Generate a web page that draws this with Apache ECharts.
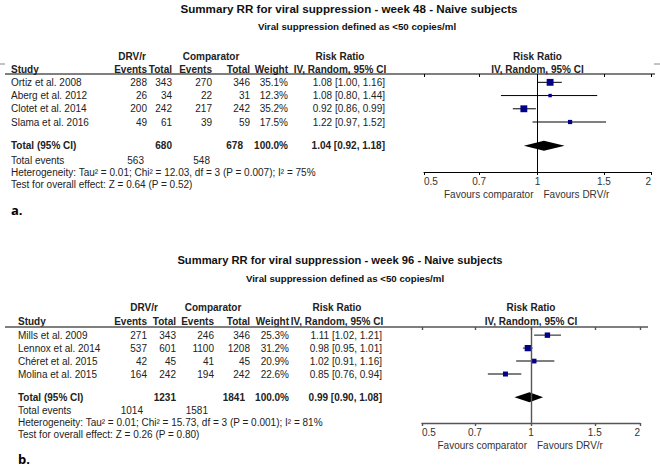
<!DOCTYPE html>
<html><head><meta charset="utf-8">
<script src="https://cdn.jsdelivr.net/npm/echarts@6/dist/echarts.min.js"></script>
<style>html,body{margin:0;padding:0;background:#fff}#c{width:660px;height:475px}</style>
</head><body><div id="c"></div>
<script>
// ---------- Panel a: week 48 ----------
const titleA = 'Summary RR for viral suppression - week 48 - Naive subjects';
const subtitleA = 'Viral suppression defined as <50 copies/ml';
const studiesA = ['Ortiz et al. 2008', 'Aberg et al. 2012', 'Clotet et al. 2014', 'Slama et al. 2016'];
const drvEventsA = [288, 26, 200, 49];
const drvTotalA = [343, 34, 242, 61];
const compEventsA = [270, 22, 217, 39];
const compTotalA = [346, 31, 242, 59];
const weightA = [35.1, 12.3, 35.2, 17.5];
const rrA = [1.08, 1.08, 0.92, 1.22];
const loA = [1.00, 0.80, 0.86, 0.97];
const hiA = [1.16, 1.44, 0.99, 1.52];
const pooledA = [1.04, 0.92, 1.18];          // RR, lower, upper
const totalsA = [680, 678];                  // DRV/r total, comparator total
const totalEventsA = [563, 548];
const hetA = 'Heterogeneity: Tau² = 0.01; Chi² = 12.03, df = 3 (P = 0.007); I² = 75%';
const testA = 'Test for overall effect: Z = 0.64 (P = 0.52)';

// ---------- Panel b: week 96 ----------
const titleB = 'Summary RR for viral suppression - week 96 - Naive subjects';
const subtitleB = 'Viral suppression defined as <50 copies/ml';
const studiesB = ['Mills et al. 2009', 'Lennox et al. 2014', 'Chéret et al. 2015', 'Molina et al. 2015'];
const drvEventsB = [271, 537, 42, 164];
const drvTotalB = [343, 601, 45, 242];
const compEventsB = [246, 1100, 41, 194];
const compTotalB = [346, 1208, 45, 242];
const weightB = [25.3, 31.2, 20.9, 22.6];
const rrB = [1.11, 0.98, 1.02, 0.85];
const loB = [1.02, 0.95, 0.91, 0.76];
const hiB = [1.21, 1.01, 1.16, 0.94];
const pooledB = [0.99, 0.90, 1.08];
const totalsB = [1231, 1841];
const totalEventsB = [1014, 1581];
const hetB = 'Heterogeneity: Tau² = 0.01; Chi² = 15.73, df = 3 (P = 0.001); I² = 81%';
const testB = 'Test for overall effect: Z = 0.26 (P = 0.80)';

// ---------- shared ----------
const tickValues = [0.5, 0.7, 1, 1.5, 2];
const favourLeft = 'Favours comparator';
const favourRight = 'Favours DRV/r';

// ---------- layout (positions / styles only) ----------
const FONT = '"Liberation Sans", Arial, sans-serif';
const TOTAL_ROW = 4.8;
const panels = [
  { key: 'a', letter: 'a.', title: titleA, subtitle: subtitleA, studies: studiesA,
    cols: [drvEventsA, drvTotalA, compEventsA, compTotalA], weight: weightA, rr: rrA, lo: loA, hi: hiA,
    pooled: pooledA, totals: totalsA, totalEvents: totalEventsA, het: hetA, test: testA,
    grid: { left: 424, top: 74, width: 227, height: 98 },
    colX: [147, 172, 212, 250, 288, 385], totColX: 243, evX: [144, 210], leftX: 11, lineX: [5, 655],
    titleX: 349, titleY: 8, subX: 357, subY: 26, h1Y: 56, h2Y: 69,
    h1X: { drv: 132, comp: 211, rr: 340 }, footY: [160, 172, 184], favY: 194, letterY: 210,
    ink: '#000', lineW: 1, titleSize: 11.6 },
  { key: 'b', letter: 'b.', title: titleB, subtitle: subtitleB, studies: studiesB,
    cols: [drvEventsB, drvTotalB, compEventsB, compTotalB], weight: weightB, rr: rrB, lo: loB, hi: hiB,
    pooled: pooledB, totals: totalsB, totalEvents: totalEventsB, het: hetB, test: testB,
    grid: { left: 422, top: 327, width: 218, height: 96 },
    colX: [147, 176, 214, 250, 289, 382], totColX: 245, evX: [143, 208], leftX: 18, lineX: [5, 648],
    titleX: 340, titleY: 260, subX: 345, subY: 278, h1Y: 307, h2Y: 321,
    h1X: { drv: 144, comp: 213, rr: 337 }, footY: [410, 422, 434], favY: 445, letterY: 459,
    ink: '#555', lineW: 1.4, titleSize: 11.2 }
];

const chart = echarts.init(document.getElementById('c'), null, { renderer: 'svg' });

function fmt(v) { return String(+(+v).toFixed(2)); }

const grids = [], xAxes = [], yAxes = [], series = [];
panels.forEach((p, i) => {
  grids.push(Object.assign({ containLabel: false }, p.grid));
  // main axis: line, labels and downward ticks
  xAxes.push({
    type: 'log', logBase: 10, gridIndex: i, min: 0.5, max: 2,
    axisLine: { show: true, onZero: false, lineStyle: { color: p.ink, width: p.lineW } },
    axisTick: { show: true, customValues: tickValues, length: 3, lineStyle: { color: p.ink, width: p.lineW } },
    axisLabel: { customValues: tickValues, formatter: fmt, margin: 4, fontSize: 10, color: '#333',
      fontFamily: FONT, alignMinLabel: 'left', alignMaxLabel: 'right' },
    splitLine: { show: false }, minorTick: { show: false }
  });
  // companion axis: upward half of the crossing ticks
  xAxes.push({
    type: 'log', logBase: 10, gridIndex: i, min: 0.5, max: 2,
    axisLine: { show: false, onZero: false },
    axisTick: { show: true, inside: true, customValues: tickValues, length: 3, lineStyle: { color: p.ink, width: p.lineW } },
    axisLabel: { show: false }, splitLine: { show: false }, minorTick: { show: false }
  });
  yAxes.push({ type: 'value', gridIndex: i, min: -0.63, max: 6.78, inverse: true, show: false });
  const studyData = p.rr.map((r, k) => [r, p.lo[k], p.hi[k], k, p.weight[k]]);
  series.push({
    type: 'custom', xAxisIndex: 2 * i, yAxisIndex: i, clip: false,
    data: studyData, encode: { x: [0, 1, 2], y: 3 },
    renderItem: (params, api) => {
      const row = api.value(3);
      const a = api.coord([api.value(1), row]);
      const b = api.coord([api.value(2), row]);
      const c = api.coord([api.value(0), row]);
      const s = 1.6 + 0.15 * api.value(4);
      return { type: 'group', children: [
        { type: 'line', shape: { x1: a[0], y1: a[1], x2: b[0], y2: b[1] }, style: { stroke: p.ink, lineWidth: p.lineW } },
        { type: 'rect', shape: { x: c[0] - s / 2, y: c[1] - s / 2, width: s, height: s }, style: { fill: '#00008b' } }
      ] };
    },
    markLine: { silent: true, symbol: 'none', animation: false, label: { show: false },
      lineStyle: { color: p.ink, width: p.lineW, type: 'solid' }, data: [{ xAxis: 1 }] },
    z: 3
  });
  series.push({
    type: 'custom', xAxisIndex: 2 * i, yAxisIndex: i, clip: false,
    data: [[p.pooled[0], p.pooled[1], p.pooled[2], TOTAL_ROW]], encode: { x: [0, 1, 2], y: 3 },
    renderItem: (params, api) => {
      const row = api.value(3);
      const l = api.coord([api.value(1), row]);
      const r = api.coord([api.value(2), row]);
      const m = api.coord([api.value(0), row]);
      const h = 5;
      return { type: 'polygon', shape: { points: [[l[0], l[1]], [m[0], m[1] - h], [r[0], r[1]], [m[0], m[1] + h]] },
        style: { fill: '#000' } };
    },
    z: 4
  });
});

chart.setOption({
  animation: false,
  grid: grids, xAxis: xAxes, yAxis: yAxes, series: series
});

// ---------- text table as graphic elements ----------
function txt(x, y, text, align, opts) {
  opts = opts || {};
  return { type: 'text', x: x, y: y, silent: true,
    style: { text: String(text), align: align || 'left', verticalAlign: 'middle',
      font: (opts.bold ? 'bold ' : '') + (opts.size || 10) + 'px ' + (opts.family || FONT),
      fill: opts.color || '#222' } };
}
const g = [];
panels.forEach((p, i) => {
  const rowY = k => chart.convertToPixel({ yAxisIndex: i }, k);
  const one = chart.convertToPixel({ xAxisIndex: 2 * i }, 1);
  const c = p.colX;
  g.push(txt(p.titleX, p.titleY, p.title, 'center', { bold: true, size: p.titleSize, color: '#111' }));
  g.push(txt(p.subX, p.subY, p.subtitle, 'center', { bold: true, size: 9.7, color: '#111' }));
  g.push(txt(p.h1X.drv, p.h1Y, 'DRV/r', 'center', { bold: true }));
  g.push(txt(p.h1X.comp, p.h1Y, 'Comparator', 'center', { bold: true }));
  g.push(txt(p.h1X.rr, p.h1Y, 'Risk Ratio', 'center', { bold: true }));
  g.push(txt(one, p.h1Y, 'Risk Ratio', 'center', { bold: true }));
  g.push(txt(p.leftX, p.h2Y, 'Study', 'left', { bold: true }));
  g.push(txt(c[0], p.h2Y, 'Events', 'right', { bold: true }));
  g.push(txt(c[1], p.h2Y, 'Total', 'right', { bold: true }));
  g.push(txt(c[2], p.h2Y, 'Events', 'right', { bold: true }));
  g.push(txt(c[3], p.h2Y, 'Total', 'right', { bold: true }));
  g.push(txt(c[4], p.h2Y, 'Weight', 'right', { bold: true }));
  g.push(txt(p.h1X.rr, p.h2Y, 'IV, Random, 95% CI', 'center', { bold: true }));
  g.push(txt(one, p.h2Y, 'IV, Random, 95% CI', 'center', { bold: true }));
  g.push({ type: 'line', silent: true, shape: { x1: p.lineX[0], y1: p.grid.top, x2: p.lineX[1], y2: p.grid.top },
    style: { stroke: p.ink, lineWidth: p.lineW } });
  p.studies.forEach((s, k) => {
    const y = rowY(k);
    g.push(txt(p.leftX, y, s, 'left'));
    for (let j = 0; j < 4; j++) g.push(txt(c[j], y, p.cols[j][k], 'right'));
    g.push(txt(c[4], y, p.weight[k].toFixed(1) + '%', 'right'));
    g.push(txt(c[5], y, p.rr[k].toFixed(2) + ' [' + p.lo[k].toFixed(2) + ', ' + p.hi[k].toFixed(2) + ']', 'right'));
  });
  const ty = rowY(TOTAL_ROW);
  g.push(txt(p.leftX, ty, 'Total (95% CI)', 'left', { bold: true }));
  g.push(txt(c[1], ty, p.totals[0], 'right', { bold: true }));
  g.push(txt(p.totColX, ty, p.totals[1], 'right', { bold: true }));
  g.push(txt(c[4], ty, '100.0%', 'right', { bold: true }));
  g.push(txt(c[5], ty, p.pooled[0].toFixed(2) + ' [' + p.pooled[1].toFixed(2) + ', ' + p.pooled[2].toFixed(2) + ']', 'right', { bold: true }));
  g.push(txt(p.leftX, p.footY[0], 'Total events', 'left'));
  g.push(txt(p.evX[0], p.footY[0], p.totalEvents[0], 'right'));
  g.push(txt(p.evX[1], p.footY[0], p.totalEvents[1], 'right'));
  g.push(txt(p.leftX, p.footY[1], p.het, 'left'));
  g.push(txt(p.leftX, p.footY[2], p.test, 'left'));
  g.push(txt(one - 4, p.favY, favourLeft, 'right', { color: '#333' }));
  g.push(txt(one + 6, p.favY, favourRight, 'left', { color: '#333' }));
  g.push(txt(p.leftX, p.letterY, p.letter, 'left', { bold: true, size: 13, family: '"Open Sans", sans-serif', color: '#000' }));
});
// small edge marks seen in panel a
g.push({ type: 'line', silent: true, shape: { x1: 0, y1: 64, x2: 5, y2: 64 }, style: { stroke: '#888', lineWidth: 1 } });
g.push({ type: 'line', silent: true, shape: { x1: 654, y1: 64, x2: 660, y2: 64 }, style: { stroke: '#888', lineWidth: 1 } });
chart.setOption({ graphic: { elements: g } });
</script>
</body></html>
